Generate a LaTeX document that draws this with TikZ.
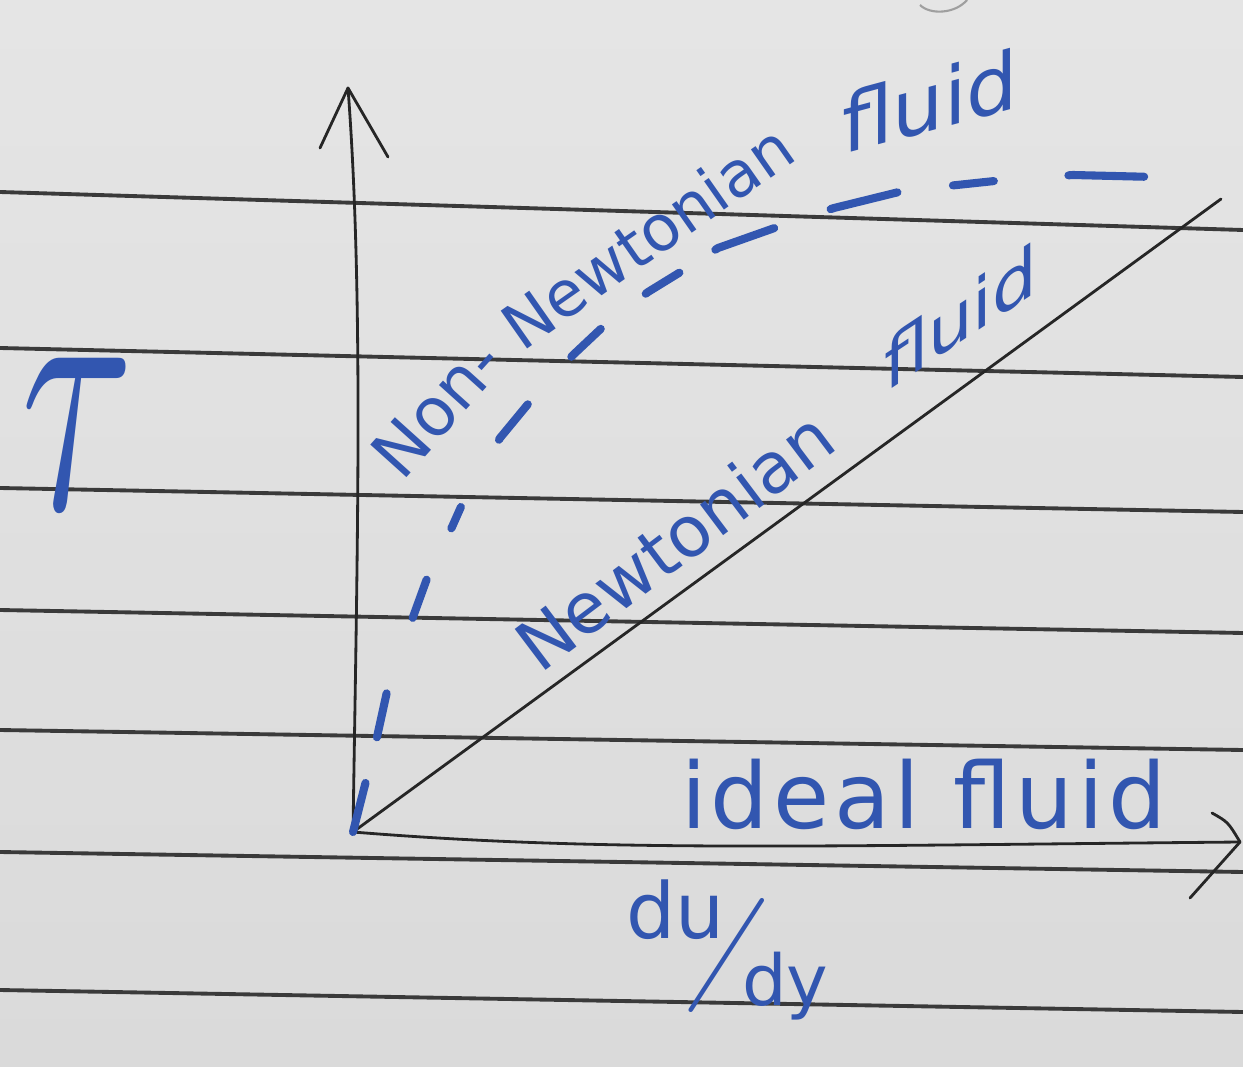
\documentclass[tikz,border=0pt]{standalone}
\usepackage{fontspec}
\newfontfamily\hand{DejaVu Sans}
\usepackage{graphicx}
\definecolor{ink}{RGB}{50,86,176}
\definecolor{papertop}{RGB}{229,229,229}
\definecolor{paperbot}{RGB}{218,218,218}
\definecolor{rulegrey}{RGB}{58,58,58}
\definecolor{pencil}{RGB}{38,38,38}
\begin{document}
\begin{tikzpicture}[x=0.02cm,y=-0.02cm,
  ruled/.style={draw=rulegrey, line width=2.2pt},
  axis/.style={draw=pencil, line width=1.6pt, line cap=round, line join=round},
  inkline/.style={draw=ink, line width=4.6pt, line cap=round, line join=round},
  handtext/.style={text=ink, inner sep=0pt, outer sep=0pt, font=\hand},
]
\useasboundingbox (0,0) rectangle (1243,1067);
\shade[top color=papertop, bottom color=paperbot] (0,0) rectangle (1243,1067);

% ruled lines of the notebook
\draw[ruled] (0,192) -- (1243,230);
\draw[ruled] (0,348) -- (1243,377);
\draw[ruled] (0,488) -- (1243,512);
\draw[ruled] (0,610) -- (1243,633);
\draw[ruled] (0,730) -- (1243,750);
\draw[ruled] (0,852) -- (1243,872);
\draw[ruled] (0,990) -- (1243,1012);

% faint pencil mark at the top
\draw[draw=gray!75, line width=1.2pt] (920,5) .. controls (930,15) and (955,14) .. (967,0);

% coordinates
\coordinate (O) at (353,832);
\coordinate (ytip) at (348,88);
\coordinate (yl) at (320,148);
\coordinate (yr) at (388,157);
\coordinate (xtip) at (1240,842);
\coordinate (xu) at (1212,813);
\coordinate (xd) at (1190,898);
\coordinate (Nend) at (1221,199);
\coordinate (NNend) at (1155,177);

% axes
\draw[axis] (O) .. controls (357,560) and (364,300) .. (ytip);
\draw[axis] (yl) -- (ytip) -- (yr);
\draw[axis] (O) .. controls (600,852) and (800,846) .. (xtip);
\draw[axis] (xu) .. controls (1228,822) .. (xtip) -- (xd);

% Newtonian fluid line
\draw[axis] (O) -- (Nend);

% Non-Newtonian fluid dashed curve
\draw[inkline, dash pattern=on 28.8pt off 26.8pt on 25.6pt off 45.5pt on 23.1pt off 32.5pt on 13.3pt off 44.0pt on 26.0pt off 36.7pt on 23.1pt off 32.5pt on 22.6pt off 24.3pt on 35.7pt off 33.9pt on 39.2pt off 31.9pt on 23.4pt off 42.6pt on 43.1pt off 100pt]
  (O) -- (367,777) -- (377,737) -- (388,687) -- (413,617) -- (429,573) -- (452,527) -- (464,500) -- (500,438) -- (533,398) -- (573,355) -- (607,323) -- (648,292) -- (687,268) -- (718,248) -- (783,225) -- (834,208) -- (907,190) -- (957,185) -- (1004,180) -- (1073,175) -- (NNend);

% labels
\node[handtext, anchor=base west, rotate=48] (non) at (402,482) {\fontsize{38}{38}\selectfont Non-};
\node[handtext, anchor=base west, rotate=35] (newtA) at (522,352) {\fontsize{36}{36}\selectfont Newtonian};
\node[handtext, anchor=base west, yslant=0.27] (fluidA) at (842,155) {\fontsize{46}{46}\selectfont fluid};

\node[handtext, anchor=base west, rotate=37] (newtB) at (540,674) {\fontsize{40}{40}\selectfont Newtonian};
\node[handtext, anchor=base west, yslant=0.66] (fluidB) at (884,393) {\fontsize{40}{40}\selectfont fluid};

\node[handtext, anchor=base west] (ideal) at (681,828) {\fontsize{52}{52}\selectfont\addfontfeatures{LetterSpace=5}ideal fluid};

\node[text=ink, inner sep=0pt] (tau) at (78,434) {\resizebox{64pt}{86pt}{$\tau$}};

\node[handtext, anchor=base west] (du) at (626,938) {\fontsize{44}{44}\selectfont du};
\node[text=ink, inner sep=0pt, rotate=-14] (slash) at (727,955) {\rmfamily\fontsize{73}{73}\selectfont /};
\node[handtext, anchor=base west] (dy) at (742,1005) {\fontsize{40}{40}\selectfont dy};
\end{tikzpicture}
\end{document}
